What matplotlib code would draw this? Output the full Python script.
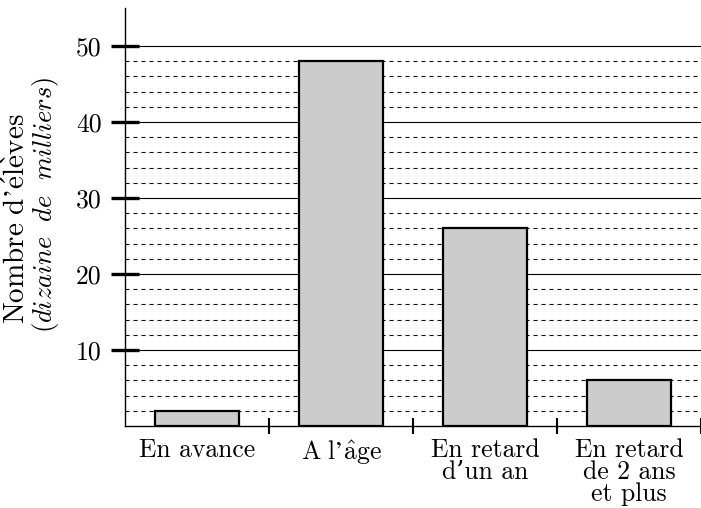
import numpy as np
import matplotlib
matplotlib.use("Agg")
import matplotlib.pyplot as plt

plt.rcParams['font.family'] = ['cmr10', 'DejaVu Serif']
plt.rcParams['mathtext.fontset'] = 'cm'
plt.rcParams['axes.formatter.use_mathtext'] = True

# donnees
categories = ["En avance", r"$\mathrm{A\ l’\hat{a}ge}$", "En retard\nd’un an", "En retard\nde 2 ans\net plus"]
effectifs = [2, 48, 26, 6]
yticks_major = [10, 20, 30, 40, 50]
yticks_minor = [v for v in range(2, 50, 2) if v % 10 != 0]

fig = plt.figure(figsize=(7.01, 5.08), dpi=100)
ax = fig.add_axes([125/701, 82/508, 576/701, 418/508])

x = np.arange(len(categories))
ax.bar(x, effectifs, width=0.58, color='#cccccc', edgecolor='black', linewidth=1.6, zorder=3)

for v in yticks_major:
    ax.axhline(v, color='black', lw=0.8, zorder=1)
for v in yticks_minor:
    ax.axhline(v, color='black', lw=0.8, dashes=(3.6, 3.6), zorder=1)

ax.set_xlim(-0.5, 3.5)
ax.set_ylim(0, 55)

ax.set_yticks(yticks_major)
ax.set_yticklabels([str(v) for v in yticks_major], fontsize=18.5)
ax.tick_params(axis='y', direction='inout', length=19.5, width=2.4, pad=7)

ax.set_xticks(x + 0.5)
ax.set_xticklabels([])
ax.tick_params(axis='x', which='major', direction='inout', length=11, width=1.5)
ax.set_xticks(x, minor=True)
ax.set_xticklabels(categories, minor=True, fontsize=18.5, linespacing=0.9)
ax.tick_params(axis='x', which='minor', length=0, pad=9)

for s in ['top', 'right']:
    ax.spines[s].set_visible(False)
ax.spines['left'].set_linewidth(1.0)
ax.spines['bottom'].set_linewidth(1.0)

fig.text(17/701, 1 - 219/508, r"$\mathrm{Nombre\ d’\acute{e}l\grave{e}ves}$", rotation=90,
         ha='center', va='center', fontsize=21)
fig.text(46/701, 1 - 205/508, r"$(\mathit{dizaine\ \ de\ \ milliers})$", rotation=90,
         ha='center', va='center', fontsize=19)

fig.savefig("out.png", dpi=100)
